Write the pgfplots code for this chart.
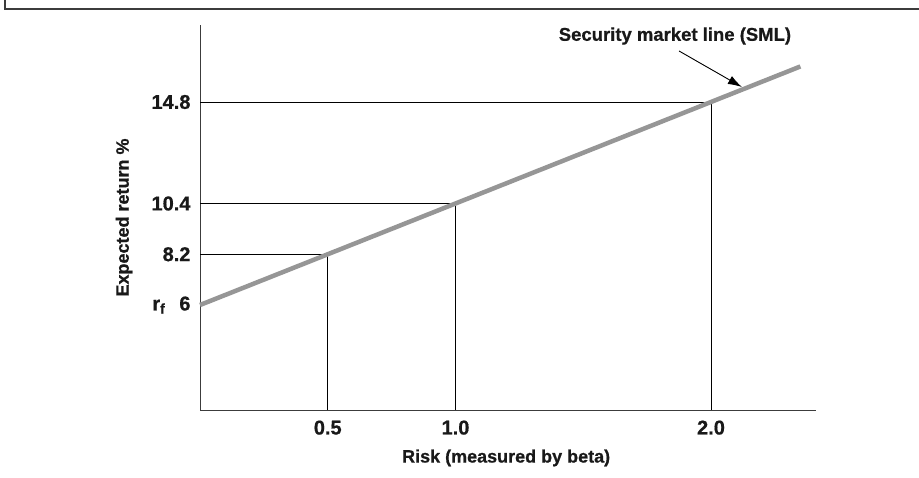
\documentclass[border=0pt]{standalone}
\usepackage{fontspec}
\setmainfont{Liberation Sans}[BoldFeatures={FakeBold=0.7}]
\usepackage{pgfplots}
\pgfplotsset{compat=1.18}
\usetikzlibrary{arrows.meta}
\definecolor{smlgray}{RGB}{150,150,150}
\definecolor{axgray}{RGB}{60,60,60}
\begin{document}
\begin{tikzpicture}[x=1pt,y=1pt]
\useasboundingbox (0,0) rectangle (919,477);
\draw[axgray, line width=1.2pt] (5,477) -- (5,468) -- (919,468);
\begin{axis}[
  at={(200pt,67pt)}, anchor=south west,
  width=616pt, height=385pt, scale only axis,
  xmin=0, xmax=2.411, ymin=1.449, ymax=18.137,
  axis lines=left,
  axis line style={axgray, line width=1pt, -},
  clip=false,
  xtick={0.5,1,2}, xticklabels={0.5,1.0,2.0},
  ytick={6,8.2,10.4,14.8},
  yticklabels={{r\textsubscript{f}\hspace{14pt}6},8.2,10.4,14.8},
  major tick length=0pt,
  tick label style={font=\fontsize{20}{22}\selectfont\bfseries, text=black!90},
  xticklabel style={yshift=-7pt},
  yticklabel style={xshift=-6pt},
  xlabel={Risk (measured by beta)},
  ylabel={Expected return \%},
  label style={font=\fontsize{18}{20}\selectfont\bfseries, text=black!90},
  xlabel style={at={(axis description cs:0.497,0)}, anchor=north, yshift=-36pt},
  ylabel style={at={(axis description cs:0,0.5)}, anchor=south, yshift=64pt},
]
\addplot[black, line width=0.8pt] coordinates {(0,8.2) (0.5,8.2) (0.5,1.449)};
\addplot[black, line width=0.8pt] coordinates {(0,10.4) (1,10.4) (1,1.449)};
\addplot[black, line width=0.8pt] coordinates {(0,14.8) (2,14.8) (2,1.449)};
\addplot[smlgray, line width=4.5pt] coordinates {(0,6) (2.35,16.34)};
\draw[-{Latex[length=14pt,width=9pt]}, black, line width=0.9pt] (axis cs:1.875,17.01) -- (axis cs:2.121,15.45);
\node[font=\fontsize{18.5}{20}\selectfont\bfseries, text=black!90] at (axis cs:1.859,17.66) {Security market line (SML)};
\end{axis}
\end{tikzpicture}
\end{document}
